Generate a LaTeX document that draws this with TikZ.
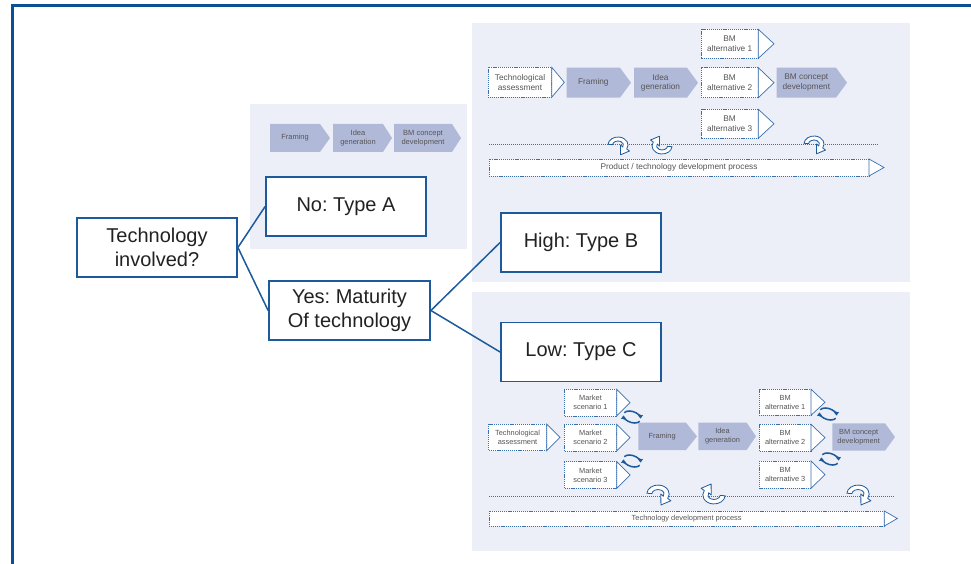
\documentclass[tikz,border=0pt]{standalone}
\usepackage{fontspec}
\setmainfont{Liberation Sans}
\usetikzlibrary{calc,arrows.meta}
\frenchspacing
\definecolor{frameblue}{HTML}{0B4F96}
\definecolor{boxblue}{HTML}{1C5A9C}
\definecolor{panelbg}{HTML}{ECEFF7}
\definecolor{chevfill}{HTML}{B1B9D9}
\definecolor{smalltext}{HTML}{555555}
\definecolor{maintext}{HTML}{222222}
\definecolor{dashblue}{HTML}{3A6FB0}
\tikzset{
 mainbox/.style={draw=boxblue, line width=1.8pt, fill=white, text=maintext,
   font=\fontsize{20}{24}\selectfont, align=center, inner sep=0pt,
   minimum width=160pt, minimum height=59pt},
 conn/.style={draw=boxblue, line width=1.5pt},
 dashbox/.style={draw=dashblue, line width=0.8pt, dash pattern=on 1.2pt off 0.9pt, fill=white},
 tipline/.style={draw=dashblue, line width=0.7pt, fill=white},
 dotline/.style={draw=dashblue, line width=0.8pt, dash pattern=on 0.8pt off 1.2pt},
 smalltxt/.style={text=smalltext, align=center, inner sep=0pt},
 panel/.style={fill=panelbg, draw=none},
 curvarr/.pic={
  \filldraw[draw=boxblue, fill=white, line width=0.8pt, line join=round]
   (185:10 and 8) arc[start angle=185, end angle=390, x radius=10, y radius=8]
   -- (11.5,6) -- (2.6,9.8) -- (2.5,0) -- (30:5.5 and 4)
   arc[start angle=390, end angle=185, x radius=5.5, y radius=4] -- cycle;
 },
 cycarr/.pic={
  \draw[boxblue, line width=1.5pt, -{Triangle[length=3.5pt,width=5pt]}]
   (15:9 and 5.5) arc[start angle=15, end angle=165, x radius=9, y radius=5.5];
  \draw[boxblue, line width=1.5pt, -{Triangle[length=3.5pt,width=5pt]}]
   (195:9 and 5.5) arc[start angle=195, end angle=345, x radius=9, y radius=5.5];
 },
}
% filled chevron: name, x1, y1, x2 (body end), y2, tip x, text
\newcommand{\chev}[7]{%
 \fill[chevfill] (#2,#3) -- (#4,#3) -- (#6,{(#3+#5)/2}) -- (#4,#5) -- (#2,#5) -- cycle;
 \node[smalltxt] (#1) at ({(#2+#4)/2},{(#3+#5)/2}) {#7};}
% dashed box with solid tip: name, x1, y1, x2, y2, tip x, text
\newcommand{\dbox}[7]{%
 \path[dashbox] (#2,#3) rectangle (#4,#5);
 \filldraw[tipline] (#4,#3) -- (#6,{(#3+#5)/2}) -- (#4,#5) -- cycle;
 \node[smalltxt] (#1) at ({(#2+#4)/2},{(#3+#5)/2}) {#7};}

\begin{document}
\begin{tikzpicture}[x=1pt,y=-1pt]
\useasboundingbox (0,0) rectangle (971,564);
\fill[white] (0,0) rectangle (971,564);

% frame
\coordinate (fbl) at (12.3,564);
\coordinate (ftl) at (12.3,5.3);
\coordinate (ftr) at (971,5.3);
\draw[frameblue, line width=2.6pt] (fbl) -- (ftl) -- (ftr);

% panels
\path[panel] (250,104) rectangle (467,249);
\path[panel] (472,23) rectangle (910,282);
\path[panel] (472,292) rectangle (910,551);

% Panel A
\begin{scope}[font=\fontsize{7.5}{8.8}\selectfont]
\chev{aF}{270}{124}{320}{152}{330}{Framing}
\chev{aI}{333}{124}{383}{152}{392}{Idea\\generation}
\chev{aB}{394}{124}{452}{152}{461}{BM concept\\development}
\end{scope}

% Panel B
\begin{scope}[font=\fontsize{8.3}{9.5}\selectfont]
\dbox{bT}{488.3}{67.3}{551.7}{97.3}{564.3}{Technological\\assessment}
\chev{bF}{566.7}{67.7}{620}{97.7}{631}{Framing}
\chev{bI}{634}{67.7}{687}{97.7}{698}{Idea\\generation}
\dbox{bA1}{701}{29.3}{758.3}{58.3}{774}{BM\\alternative 1}
\dbox{bA2}{701}{67.7}{758.3}{97.7}{774}{BM\\alternative 2}
\dbox{bA3}{701}{109.3}{758.3}{138.3}{774}{BM\\alternative 3}
\chev{bB}{776.7}{67.7}{836}{97.7}{847}{BM concept\\development}
\coordinate (bd1) at (489,144.7);
\coordinate (bd2) at (878,144.7);
\draw[dotline] (bd1) -- (bd2);
\dbox{bP}{489}{159}{869}{176}{884}{Product / technology development process}
\pic at (618,145) {curvarr};
\pic[rotate=180] at (662,146) {curvarr};
\pic at (814,144) {curvarr};
\end{scope}

% Panel C
\begin{scope}[font=\fontsize{7.4}{8.8}\selectfont]
\dbox{cT}{488.3}{424}{546.7}{450.7}{560}{Technological\\assessment}
\dbox{cM1}{564.3}{389.3}{616.7}{416}{630}{Market\\scenario 1}
\dbox{cM2}{564.3}{424.3}{616.7}{451}{630}{Market\\scenario 2}
\dbox{cM3}{564.3}{461.7}{616.7}{488.3}{630}{Market\\scenario 3}
\chev{cF}{638.3}{422.7}{686}{450}{697}{Framing}
\chev{cI}{698.3}{422.7}{746.7}{450}{756}{Idea\\generation}
\dbox{cA1}{759.3}{389.3}{811}{415.3}{825}{BM\\alternative 1}
\dbox{cA2}{759.3}{424.3}{811}{451}{825}{BM\\alternative 2}
\dbox{cA3}{759.3}{461}{811}{488.3}{825}{BM\\alternative 3}
\chev{cB}{832.3}{423.3}{885}{450.7}{895}{BM concept\\development}
\pic[rotate=-20] at (632,417) {cycarr};
\pic[rotate=-20] at (632,461) {cycarr};
\pic[rotate=-20] at (828,414) {cycarr};
\pic[rotate=-20] at (830,459) {cycarr};
\coordinate (cd1) at (489,496);
\coordinate (cd2) at (894,496);
\draw[dotline] (cd1) -- (cd2);
\dbox{cP}{489}{511}{884.3}{526}{897.3}{Technology development process}
\pic[scale=1.12] at (658,494) {curvarr};
\pic[scale=1.12, rotate=180] at (714,495) {curvarr};
\pic[scale=1.12] at (858,494) {curvarr};
\end{scope}

% decision tree
\node[mainbox] (tech) at (157,247.5) {Technology\\involved?};
\node[mainbox] (noa) at (346,206.5) {No: Type A};
\node[mainbox, minimum width=161pt] (yes) at (349.5,310.5) {Yes: Maturity\\Of technology};
\node[mainbox] (highb) at (581,242.5) {High: Type B};
\node[mainbox] (lowc) at (581,352) {Low: Type C};
\draw[conn] (tech.east) -- (noa.west);
\draw[conn] (tech.east) -- (yes.west);
\draw[conn] (yes.east) -- (highb.west);
\draw[conn] (yes.east) -- (lowc.west);
\end{tikzpicture}
\end{document}
